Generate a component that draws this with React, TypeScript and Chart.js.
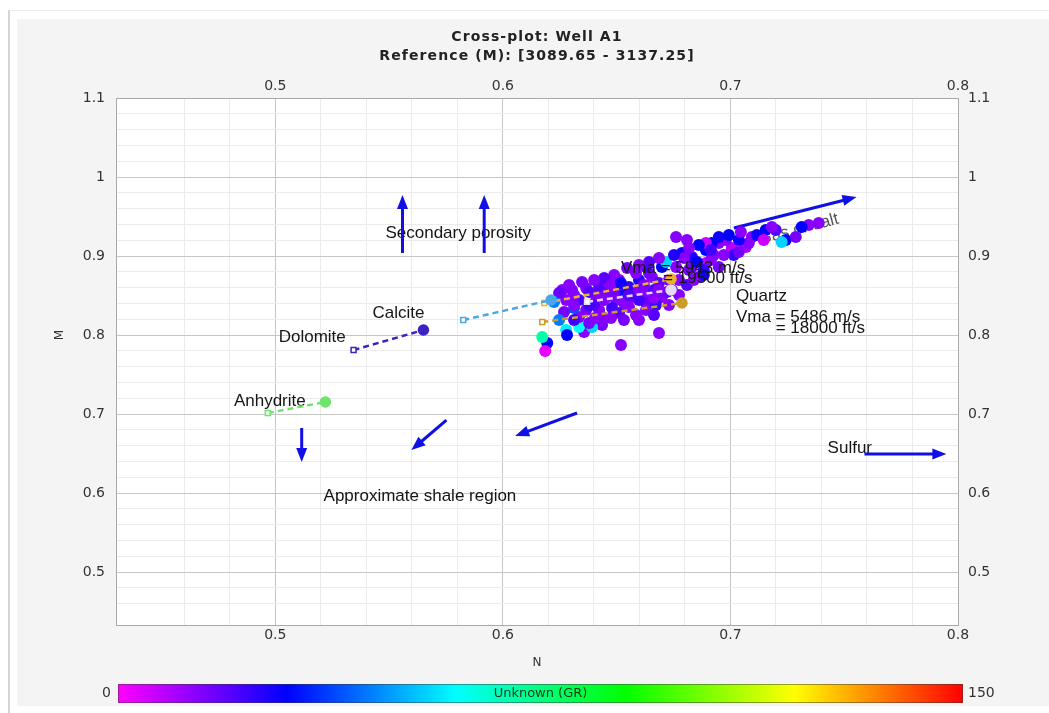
import React, { useEffect, useRef } from 'react';
import { Chart, registerables } from 'chart.js';

Chart.register(...registerables);

// ---------- text ----------
const chartTitle = ['Cross-plot: Well A1', 'Reference (M): [3089.65 - 3137.25]'];
const xAxisTitle = 'N';
const yAxisTitle = 'M';
const colorBarTitle = 'Unknown (GR)';
const colorBarMinLabel = '0';
const colorBarMaxLabel = '150';

// ---------- axes ----------
const nRange = [0.43, 0.8];
const mRange = [0.433, 1.1];
const grRange = [0, 150];
const minorStep = 0.02;

// ---------- well log points (N, M, GR) ----------
const pointN = [
  0.6195, 0.6186, 0.6173, 0.6278, 0.6282, 0.6357, 0.6436, 0.6519, 0.6686, 0.6335,
  0.6392, 0.6261, 0.6304, 0.6366, 0.6423, 0.6467, 0.6278, 0.6335, 0.641, 0.6454,
  0.6511, 0.6554, 0.6497, 0.6568, 0.6629, 0.6598, 0.6655, 0.6686, 0.673, 0.6743,
  0.6699, 0.6629, 0.6554, 0.648, 0.6423, 0.6366, 0.6436, 0.6511, 0.6585, 0.6629,
  0.6673, 0.6335, 0.6379, 0.6247, 0.6787, 0.6831, 0.6892, 0.6949, 0.7006, 0.7068,
  0.7081, 0.6892, 0.6949, 0.6831, 0.6861, 0.6761, 0.6699, 0.6717, 0.6642, 0.6585,
  0.6629, 0.6918, 0.698, 0.7037, 0.7094, 0.7155, 0.7199, 0.7243, 0.7225, 0.7287,
  0.7344, 0.7388, 0.7313, 0.7182, 0.6761, 0.6809, 0.6892, 0.6949, 0.7015, 0.6927,
  0.6818, 0.6883, 0.6774, 0.6511, 0.6532, 0.6313, 0.6225, 0.6401, 0.6598, 0.6664,
  0.6313, 0.6379, 0.6445, 0.6489, 0.6532, 0.6598, 0.6664, 0.6721, 0.6774, 0.6809,
  0.6839, 0.6883, 0.6914, 0.6853, 0.6796, 0.6752, 0.6686, 0.6642, 0.6598, 0.6546,
  0.6489, 0.6445, 0.6401, 0.6348, 0.6291, 0.6475, 0.6532, 0.6598, 0.6664, 0.673,
  0.6269, 0.6313, 0.6247, 0.6405, 0.6993, 0.7046, 0.7116, 0.7146, 0.6861, 0.6818,
  0.6914, 0.6971, 0.7037, 0.6686, 0.6554, 0.6475, 0.6519, 0.662, 0.6313, 0.6379,
];
const pointM = [
  0.7899, 0.7797, 0.7975, 0.8063, 0.8, 0.8038, 0.8127, 0.7873, 0.8025, 0.8101,
  0.8101, 0.857, 0.857, 0.8595, 0.8608, 0.8633, 0.8443, 0.8443, 0.8481, 0.8532,
  0.857, 0.8608, 0.8443, 0.8481, 0.8532, 0.8696, 0.8734, 0.8658, 0.8696, 0.857,
  0.8481, 0.8405, 0.8354, 0.8342, 0.8316, 0.8316, 0.8228, 0.8278, 0.8253, 0.8316,
  0.838, 0.8228, 0.8152, 0.8532, 0.9038, 0.8987, 0.9076, 0.9165, 0.9101, 0.9114,
  0.9165, 0.8911, 0.8861, 0.8861, 0.8734, 0.8861, 0.8861, 0.8924, 0.8785, 0.8785,
  0.8861, 0.9165, 0.9203, 0.9203, 0.9241, 0.9329, 0.9329, 0.9203, 0.9177, 0.9241,
  0.9392, 0.9418, 0.9367, 0.9367, 0.9241, 0.9203, 0.9165, 0.9241, 0.9013, 0.9013,
  0.8823, 0.8823, 0.8696, 0.8696, 0.8506, 0.8342, 0.8418, 0.838, 0.857, 0.857,
  0.8506, 0.8544, 0.8443, 0.8506, 0.8405, 0.8443, 0.8468, 0.8544, 0.8506, 0.8633,
  0.8696, 0.8759, 0.8949, 0.8924, 0.8975, 0.9013, 0.8975, 0.8924, 0.8886, 0.8848,
  0.8759, 0.8722, 0.8696, 0.8671, 0.8633, 0.8215, 0.819, 0.819, 0.8253, 0.838,
  0.8291, 0.819, 0.819, 0.8215, 0.9266, 0.9304, 0.9266, 0.9203, 0.9139, 0.9101,
  0.9076, 0.9013, 0.9051, 0.857, 0.8506, 0.8633, 0.8658, 0.8633, 0.838, 0.838,
];
const pointGR = [
  30, 3, 70, 58, 30, 14, 16, 14, 14, 60,
  55, 14, 16, 14, 20, 14, 14, 22, 14, 18,
  14, 24, 14, 16, 14, 26, 14, 20, 14, 16,
  14, 18, 14, 22, 14, 16, 14, 20, 14, 14,
  24, 14, 16, 18, 28, 26, 30, 14, 8, 10,
  14, 6, 16, 14, 20, 14, 30, 55, 16, 14,
  22, 30, 14, 28, 14, 30, 20, 30, 55, 16,
  14, 14, 30, 14, 14, 14, 6, 28, 24, 14,
  16, 24, 14, 14, 28, 40, 45, 20, 14, 20,
  14, 20, 14, 16, 14, 22, 14, 18, 14, 20,
  14, 28, 14, 30, 14, 26, 14, 20, 14, 16,
  14, 20, 14, 16, 14, 14, 16, 14, 20, 14,
  16, 22, 45, 14, 30, 14, 28, 6, 30, 14,
  22, 14, 16, 14, 20, 14, 28, 16, 14, 22,
];

// ---------- mineral lines (start = open square, end = filled circle) ----------
const mineralStartN = [0.4967, 0.5344, 0.5826, 0.6182, 0.6173, 0.637];
const mineralStartM = [0.7013, 0.781, 0.819, 0.8405, 0.8165, 0.842];
const mineralEndN = [0.522, 0.5651, 0.6212, 0.6739, 0.6787, 0.6739];
const mineralEndM = [0.7152, 0.8063, 0.8443, 0.8709, 0.8405, 0.857];
const mineralColors = ['#6ee46a', '#3a22c4', '#4aa8e8', '#eab22e', '#cc9c2c', '#e2def0'];

// ---------- annotations ----------
const labelTexts = ['Secondary porosity', 'Calcite', 'Dolomite', 'Anhydrite', 'Approximate shale region', 'Sulfur'];
const labelN = [0.5484, 0.5427, 0.5015, 0.4818, 0.5212, 0.7427];
const labelM = [0.929, 0.8278, 0.7975, 0.7165, 0.5962, 0.657];

const vmaTexts = ['Quartz', 'Vma = 5486 m/s', '= 18000 ft/s', 'Vma = 5943 m/s', '= 19500 ft/s'];
const vmaN = [0.7024, 0.7024, 0.7199, 0.6519, 0.6704];
const vmaM = [0.8494, 0.8228, 0.8089, 0.8848, 0.8722];

const trendTexts = ['Gas or salt'];
const trendN = [0.7125];
const trendM = [0.9203];
const trendAngleDeg = [-15];

const arrowFromN = [0.5559, 0.5918, 0.5116, 0.5752, 0.6326, 0.7589, 0.7015];
const arrowFromM = [0.9038, 0.9038, 0.6823, 0.6924, 0.7013, 0.6494, 0.9354];
const arrowToN = [0.5559, 0.5918, 0.5116, 0.5598, 0.6054, 0.7949, 0.7554];
const arrowToM = [0.9772, 0.9772, 0.6392, 0.6544, 0.6722, 0.6494, 0.9747];

// ---------- styling ----------
const colorStops: [number, number[]][] = [
  [0, [255, 0, 255]],
  [0.2, [0, 0, 255]],
  [0.4, [0, 255, 255]],
  [0.6, [0, 255, 0]],
  [0.8, [255, 255, 0]],
  [1, [255, 0, 0]],
];
const tickFont = { family: '"DejaVu Sans", Verdana, sans-serif', size: 14 };
const annotFont = '17px "Liberation Sans", Arial, sans-serif';
const arrowColor = '#1010e6';
const CANVAS_W = 1032;
const CANVAS_H = 687;

function grColor(gr: number): string {
  const t = Math.max(0, Math.min(1, (gr - grRange[0]) / (grRange[1] - grRange[0])));
  for (let i = 1; i < colorStops.length; i++) {
    const [t1, c1] = colorStops[i];
    const [t0, c0] = colorStops[i - 1];
    if (t <= t1) {
      const f = (t - t0) / (t1 - t0);
      const c = c0.map((v, k) => Math.round(v + (c1[k] - v) * f));
      return `rgb(${c[0]},${c[1]},${c[2]})`;
    }
  }
  return 'rgb(255,0,0)';
}

function isMajor(v: number): boolean {
  return Math.abs(v * 10 - Math.round(v * 10)) < 1e-6;
}
function fmtTick(v: number | string): string {
  const n = Number(v);
  return isMajor(n) ? String(Math.round(n * 10) / 10) : '';
}

function drawArrow(ctx: CanvasRenderingContext2D, x1: number, y1: number, x2: number, y2: number) {
  const ang = Math.atan2(y2 - y1, x2 - x1);
  const headLen = 14;
  const headW = 11;
  const cos = Math.cos(ang);
  const sin = Math.sin(ang);
  const bx = x2 - headLen * cos;
  const by = y2 - headLen * sin;
  ctx.save();
  ctx.strokeStyle = arrowColor;
  ctx.fillStyle = arrowColor;
  ctx.lineWidth = 3;
  ctx.beginPath();
  ctx.moveTo(x1, y1);
  ctx.lineTo(bx + 2 * cos, by + 2 * sin);
  ctx.stroke();
  ctx.beginPath();
  ctx.moveTo(x2, y2);
  ctx.lineTo(bx - (headW / 2) * sin, by + (headW / 2) * cos);
  ctx.lineTo(bx + (headW / 2) * sin, by - (headW / 2) * cos);
  ctx.closePath();
  ctx.fill();
  ctx.restore();
}

function setSpacing(ctx: any, s: string) {
  if ('letterSpacing' in ctx) ctx.letterSpacing = s;
}

const overlayPlugin = {
  id: 'mnOverlay',
  beforeDraw(chart: any) {
    const { ctx, chartArea: a } = chart;
    ctx.save();
    ctx.fillStyle = '#ffffff';
    ctx.fillRect(a.left, a.top, a.right - a.left, a.bottom - a.top);
    ctx.restore();
  },
  beforeDatasetsDraw(chart: any) {
    const { ctx, chartArea: a } = chart;
    const xs = chart.scales.x;
    const ys = chart.scales.y;
    ctx.save();
    ctx.beginPath();
    ctx.rect(a.left, a.top, a.right - a.left, a.bottom - a.top);
    ctx.clip();
    ctx.font = annotFont;
    ctx.fillStyle = '#151515';
    ctx.textAlign = 'left';
    ctx.textBaseline = 'middle';
    labelTexts.forEach((t, i) => {
      ctx.fillText(t, xs.getPixelForValue(labelN[i]), ys.getPixelForValue(labelM[i]));
    });
    trendTexts.forEach((t, i) => {
      ctx.save();
      ctx.translate(xs.getPixelForValue(trendN[i]), ys.getPixelForValue(trendM[i]));
      ctx.rotate((trendAngleDeg[i] * Math.PI) / 180);
      ctx.fillStyle = '#555';
      ctx.fillText(t, 0, 0);
      ctx.restore();
    });
    arrowFromN.forEach((_, i) => {
      drawArrow(
        ctx,
        xs.getPixelForValue(arrowFromN[i]),
        ys.getPixelForValue(arrowFromM[i]),
        xs.getPixelForValue(arrowToN[i]),
        ys.getPixelForValue(arrowToM[i])
      );
    });
    ctx.restore();
  },
  afterDatasetsDraw(chart: any) {
    const { ctx } = chart;
    const xs = chart.scales.x;
    const ys = chart.scales.y;
    ctx.save();
    ctx.font = annotFont;
    ctx.fillStyle = '#151515';
    ctx.textAlign = 'left';
    ctx.textBaseline = 'middle';
    vmaTexts.forEach((t, i) => {
      ctx.fillText(t, xs.getPixelForValue(vmaN[i]), ys.getPixelForValue(vmaM[i]));
    });
    ctx.restore();
  },
  afterDraw(chart: any) {
    const { ctx, chartArea: a } = chart;
    const cx = (a.left + a.right) / 2;
    ctx.save();
    // title
    ctx.fillStyle = '#222';
    ctx.textAlign = 'center';
    ctx.textBaseline = 'middle';
    ctx.font = 'bold 14px "DejaVu Sans", Verdana, sans-serif';
    setSpacing(ctx, '1.1px');
    ctx.fillText(chartTitle[0], cx, 18);
    ctx.fillText(chartTitle[1], cx, 37);
    setSpacing(ctx, '0px');
    // axis titles
    ctx.font = '12px "DejaVu Sans", Verdana, sans-serif';
    ctx.fillStyle = '#333';
    ctx.fillText(xAxisTitle, cx, a.bottom + 38);
    ctx.save();
    ctx.translate(a.left - 56, 316);
    ctx.rotate(-Math.PI / 2);
    ctx.fillText(yAxisTitle, 0, 0);
    ctx.restore();
    // color bar
    const barL = a.left + 2;
    const barR = a.right + 5;
    const barT = a.bottom + 59;
    const barH = 19;
    const g = ctx.createLinearGradient(barL, 0, barR, 0);
    colorStops.forEach(([t, c]) => g.addColorStop(t, `rgb(${c[0]},${c[1]},${c[2]})`));
    ctx.fillStyle = g;
    ctx.fillRect(barL, barT, barR - barL, barH);
    ctx.strokeStyle = 'rgba(60,60,60,0.5)';
    ctx.lineWidth = 1;
    ctx.strokeRect(barL + 0.5, barT + 0.5, barR - barL - 1, barH - 1);
    ctx.font = '14px "DejaVu Sans", Verdana, sans-serif';
    ctx.fillStyle = '#333';
    ctx.textAlign = 'right';
    ctx.fillText(colorBarMinLabel, barL - 7, barT + barH / 2);
    ctx.textAlign = 'left';
    ctx.fillText(colorBarMaxLabel, barR + 5, barT + barH / 2);
    ctx.textAlign = 'center';
    ctx.font = '13px "DejaVu Sans", Verdana, sans-serif';
    ctx.fillStyle = '#1a3a1a';
    ctx.fillText(colorBarTitle, (barL + barR) / 2, barT + barH / 2);
    ctx.restore();
  },
};

export default function App() {
  const canvasRef = useRef<HTMLCanvasElement | null>(null);

  useEffect(() => {
    const canvas = canvasRef.current;
    if (!canvas) return;

    const scatterData = pointN.map((n, i) => ({ x: n, y: pointM[i] }));
    const scatterColors = pointGR.map((g) => grColor(g));

    const mineralSets = mineralStartN.map((_, i) => ({
      type: 'scatter' as const,
      data: [
        { x: mineralStartN[i], y: mineralStartM[i] },
        { x: mineralEndN[i], y: mineralEndM[i] },
      ],
      showLine: true,
      borderColor: mineralColors[i],
      borderWidth: 2.5,
      borderDash: [6, 4],
      pointStyle: ['rect', 'circle'],
      pointRadius: [3.5, 5],
      pointBackgroundColor: ['#ffffff', mineralColors[i]],
      pointBorderColor: mineralColors[i],
      pointBorderWidth: 1.5,
      order: 1,
    }));

    const grid = {
      color: (c: any) => (c.tick && isMajor(c.tick.value) ? '#c6c6c6' : '#ebebeb'),
      drawTicks: false,
      lineWidth: 1,
    };
    const hiddenGrid = { color: 'rgba(0,0,0,0)', drawTicks: false };
    const border = { color: '#a9a9a9', width: 1 };
    const ticksBase = {
      stepSize: minorStep,
      autoSkip: false,
      maxRotation: 0,
      minRotation: 0,
      font: tickFont,
      color: '#333',
      callback: (v: any) => fmtTick(v),
    };

    const chart = new Chart(canvas, {
      type: 'scatter',
      data: {
        datasets: [
          ...mineralSets,
          {
            type: 'scatter' as const,
            data: scatterData,
            pointRadius: 6,
            pointHoverRadius: 6,
            pointBackgroundColor: scatterColors,
            pointBorderColor: scatterColors,
            pointBorderWidth: 0,
            order: 2,
          },
        ] as any,
      },
      options: {
        responsive: false,
        animation: false,
        devicePixelRatio: 1,
        layout: { padding: 0 },
        plugins: {
          legend: { display: false },
          title: { display: false },
          tooltip: { enabled: false },
        },
        scales: {
          x: {
            type: 'linear',
            position: 'bottom',
            min: nRange[0],
            max: nRange[1],
            grid,
            border,
            ticks: { ...ticksBase, padding: 2 },
            afterFit: (s: any) => {
              s.height = 81;
            },
          },
          x2: {
            type: 'linear',
            position: 'top',
            min: nRange[0],
            max: nRange[1],
            grid: hiddenGrid,
            border,
            ticks: { ...ticksBase, padding: 3 },
            afterFit: (s: any) => {
              s.height = 79;
            },
          },
          y: {
            type: 'linear',
            position: 'left',
            min: mRange[0],
            max: mRange[1],
            grid,
            border,
            ticks: { ...ticksBase, padding: 11 },
            afterFit: (s: any) => {
              s.width = 99;
            },
          },
          y2: {
            type: 'linear',
            position: 'right',
            min: mRange[0],
            max: mRange[1],
            grid: hiddenGrid,
            border,
            ticks: { ...ticksBase, padding: 10 },
            afterFit: (s: any) => {
              s.width = 91;
            },
          },
        } as any,
      },
      plugins: [overlayPlugin],
    });

    return () => chart.destroy();
  }, []);

  return (
    <div style={{ position: 'absolute', left: 0, top: 0, width: 1049, height: 713, background: '#ffffff', overflow: 'hidden' }}>
      <div
        style={{
          position: 'absolute',
          left: 8,
          top: 10,
          width: 1041,
          height: 703,
          background: '#ffffff',
          borderLeft: '2px solid #d4d4d4',
          borderTop: '1px solid #ececec',
          boxSizing: 'border-box',
        }}
      />
      <div
        style={{
          position: 'absolute',
          left: 17,
          top: 19,
          width: CANVAS_W,
          height: CANVAS_H,
          background: '#f4f4f4',
        }}
      >
        <canvas ref={canvasRef} width={CANVAS_W} height={CANVAS_H} style={{ display: 'block', width: CANVAS_W, height: CANVAS_H }} />
      </div>
    </div>
  );
}
